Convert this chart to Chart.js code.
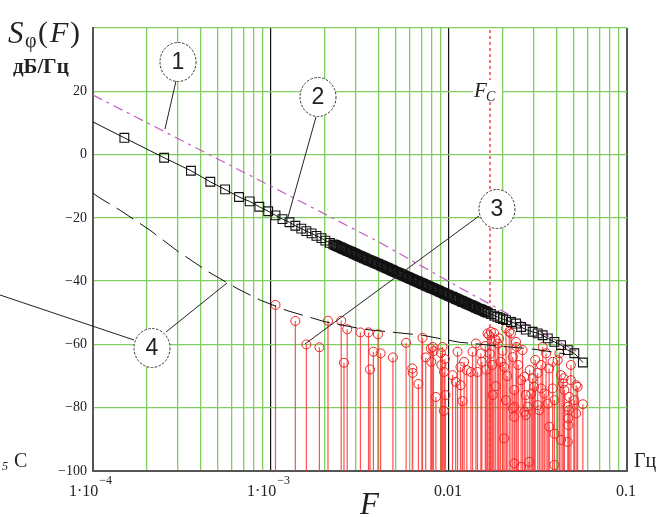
<!DOCTYPE html>
<html>
<head>
<meta charset="utf-8">
<script src="https://cdn.jsdelivr.net/npm/chart.js@4.4.0/dist/chart.umd.min.js"></script>
<style>
  html, body { margin: 0; padding: 0; background: #fff; }
</style>
</head>
<body>
<canvas id="chart" width="664" height="517"></canvas>
<script>
// ---- data (F in Hz, S in dB/Hz) ----

// 1: magenta dash-dot line
const line1F = [1e-4, 1e-3, 4e-3, 0.0117, 0.0233, 0.05, 0.0537];
const line1S = [18.8, -10.0, -27.5, -42.3, -51.5, -61.7, -62.5];

// 2: black line with squares (the middle part is a dense band of squares)
const line2F = [
  1.0e-4, 1.50e-4, 2.51e-4, 3.55e-4, 4.56e-4, 5.52e-4, 6.61e-4, 7.59e-4, 8.60e-4, 9.64e-4,
  1.06e-3, 1.16e-3, 1.27e-3, 1.37e-3, 1.48e-3, 1.58e-3, 1.69e-3, 1.80e-3, 1.92e-3, 2.02e-3,
  2.14e-3, 2.24e-3, 2.28e-3, 2.31e-3, 2.35e-3, 2.39e-3, 2.43e-3, 2.47e-3, 2.51e-3, 2.55e-3,
  2.59e-3, 2.63e-3, 2.68e-3, 2.72e-3, 2.77e-3, 2.81e-3, 2.86e-3, 2.90e-3, 2.95e-3, 2.99e-3,
  3.04e-3, 3.09e-3, 3.14e-3, 3.19e-3, 3.25e-3, 3.30e-3, 3.35e-3, 3.40e-3, 3.46e-3, 3.52e-3,
  3.57e-3, 3.63e-3, 3.69e-3, 3.75e-3, 3.81e-3, 3.87e-3, 3.94e-3, 4.00e-3, 4.07e-3, 4.13e-3,
  4.20e-3, 4.27e-3, 4.34e-3, 4.41e-3, 4.48e-3, 4.55e-3, 4.63e-3, 4.70e-3, 4.78e-3, 4.85e-3,
  4.93e-3, 5.01e-3, 5.10e-3, 5.18e-3, 5.26e-3, 5.35e-3, 5.44e-3, 5.52e-3, 5.61e-3, 5.70e-3,
  5.80e-3, 5.89e-3, 5.99e-3, 6.08e-3, 6.18e-3, 6.28e-3, 6.39e-3, 6.49e-3, 6.60e-3, 6.70e-3,
  6.81e-3, 6.92e-3, 7.04e-3, 7.15e-3, 7.27e-3, 7.38e-3, 7.50e-3, 7.62e-3, 7.75e-3, 7.87e-3,
  8.00e-3, 8.13e-3, 8.27e-3, 8.40e-3, 8.54e-3, 8.67e-3, 8.82e-3, 8.96e-3, 9.11e-3, 9.25e-3,
  9.40e-3, 9.55e-3, 9.71e-3, 9.87e-3, 0.0100, 0.0102, 0.0104, 0.0105, 0.0107, 0.0109,
  0.0110, 0.0112, 0.0114, 0.0116, 0.0118, 0.0119, 0.0121, 0.0123, 0.0125, 0.0127,
  0.0129, 0.0131, 0.0134, 0.0136, 0.0138, 0.0140, 0.0142, 0.0145, 0.0147, 0.0149,
  0.0152, 0.0154, 0.0157, 0.0159, 0.0162, 0.0165, 0.0172, 0.0180, 0.0187, 0.0194,
  0.0201, 0.0209, 0.0223, 0.0238, 0.0254, 0.0270, 0.0295, 0.0315, 0.0336, 0.0359,
  0.0391, 0.0426, 0.0465, 0.0506, 0.0565
];
const line2S = [
  10.3, 5.3, -1.0, -5.1, -8.6, -11.0, -13.4, -14.8, -16.5, -17.9,
  -19.2, -20.4, -21.4, -22.5, -23.4, -24.2, -24.9, -25.7, -26.4, -27.2,
  -27.9, -28.4, -28.55, -28.7, -28.9, -29.1, -29.25, -29.4, -29.6, -29.8,
  -29.95, -30.1, -30.3, -30.5, -30.65, -30.8, -31.0, -31.2, -31.35, -31.5,
  -31.7, -31.9, -32.05, -32.2, -32.4, -32.6, -32.75, -32.9, -33.1, -33.3,
  -33.45, -33.6, -33.75, -33.9, -34.1, -34.3, -34.45, -34.6, -34.8, -35.0,
  -35.15, -35.3, -35.5, -35.7, -35.85, -36.0, -36.2, -36.4, -36.55, -36.7,
  -36.9, -37.1, -37.25, -37.4, -37.6, -37.8, -37.95, -38.1, -38.3, -38.5,
  -38.65, -38.8, -39.0, -39.2, -39.35, -39.5, -39.7, -39.9, -40.05, -40.2,
  -40.4, -40.6, -40.75, -40.9, -41.1, -41.3, -41.45, -41.6, -41.8, -42.0,
  -42.15, -42.3, -42.5, -42.7, -42.85, -43.0, -43.2, -43.4, -43.55, -43.7,
  -43.9, -44.1, -44.25, -44.4, -44.6, -44.8, -44.95, -45.1, -45.3, -45.5,
  -45.65, -45.8, -46.0, -46.2, -46.35, -46.5, -46.65, -46.8, -47.0, -47.2,
  -47.35, -47.5, -47.7, -47.9, -48.05, -48.2, -48.4, -48.6, -48.75, -48.9,
  -49.05, -49.2, -49.4, -49.6, -49.8, -50.0, -50.4, -50.9, -51.3, -51.7,
  -52.0, -52.3, -52.9, -53.4, -54.5, -55.3, -56.0, -56.5, -57.1, -58.1,
  -59.2, -60.2, -61.8, -62.8, -65.7
];

// 3: red stems with circles
const line3F = [
  1.06e-3, 1.37e-3, 1.58e-3, 1.87e-3, 2.09e-3, 2.48e-3, 2.57e-3, 2.68e-3, 3.18e-3, 3.53e-3,
  3.60e-3, 3.76e-3, 3.99e-3, 4.13e-3, 4.84e-3, 5.74e-3, 6.22e-3, 6.25e-3, 6.73e-3, 7.10e-3,
  7.40e-3, 7.90e-3, 7.95e-3, 8.10e-3, 8.18e-3, 8.44e-3, 9.00e-3, 9.06e-3, 9.19e-3, 9.35e-3,
  9.38e-3, 9.48e-3, 9.55e-3, 0.01047, 0.0109, 0.01117, 0.0116, 0.01164, 0.0119, 0.01216,
  0.01259, 0.01327, 0.01356, 0.01416, 0.01446, 0.0151, 0.0153, 0.0160, 0.0162, 0.01647,
  0.0168, 0.0170, 0.0172, 0.0175, 0.0176, 0.0179, 0.0183, 0.0183, 0.0188, 0.0191,
  0.0195, 0.0200, 0.0204, 0.0204, 0.0209, 0.0209, 0.0212, 0.0218, 0.0223, 0.0228,
  0.0228, 0.0233, 0.0233, 0.0233, 0.0233, 0.0238, 0.0240, 0.0245, 0.0254, 0.0254,
  0.0259, 0.0265, 0.0265, 0.0270, 0.0270, 0.0277, 0.0282, 0.0284, 0.0290, 0.0295,
  0.0301, 0.0305, 0.0315, 0.0315, 0.0322, 0.0329, 0.0329, 0.0336, 0.0343, 0.0351,
  0.0359, 0.0365, 0.0366, 0.0382, 0.0382, 0.0391, 0.0391, 0.0391, 0.0408, 0.0417,
  0.0426, 0.0426, 0.0436, 0.0440, 0.0445, 0.0465, 0.0465, 0.0468, 0.0468, 0.0472,
  0.0474, 0.0484, 0.0484, 0.0506, 0.0518, 0.0518, 0.0528, 0.0565
];
const line3S = [
  -47.5, -52.6, -60.0, -60.9, -52.5, -52.5, -65.8, -55.2, -56.2, -56.2,
  -67.9, -62.3, -56.8, -62.8, -64.1, -59.5, -67.6, -69.0, -72.5, -57.9,
  -64.1, -61.3, -65.5, -60.8, -62.1, -76.6, -62.7, -66.5, -60.8, -81.0,
  -68.7, -64.6, -76.0, -69.7, -71.8, -62.3, -67.1, -72.9, -77.9, -65.5,
  -68.1, -68.7, -62.3, -59.7, -68.7, -62.8, -65.5, -60.5, -68.0, -56.5,
  -57.1, -63.0, -56.0, -66.5, -76.0, -56.4, -58.6, -73.2, -59.7, -58.1,
  -65.5, -62.0, -89.7, -67.1, -54.9, -77.6, -70.0, -56.0, -56.5, -80.2,
  -64.0, -79.7, -82.9, -74.4, -97.6, -59.2, -60.8, -66.5, -71.3, -98.7,
  -61.8, -70.2, -81.3, -82.3, -76.0, -79.7, -97.1, -68.1, -75.5, -70.7,
  -73.4, -64.9, -79.2, -69.0, -80.8, -66.5, -73.9, -60.8, -75.5, -62.8,
  -78.7, -67.6, -86.0, -65.5, -73.9, -77.6, -88.2, -98.1, -65.0, -62.8,
  -69.7, -90.2, -72.3, -70.7, -74.4, -90.8, -79.7, -85.5, -83.4, -80.8,
  -76.6, -66.5, -71.3, -77.6, -72.9, -81.8, -73.4, -78.9
];

// 4: black dashed line
const line4F = [1e-4, 1.07e-4, 1.42e-4, 2.09e-4, 3.02e-4, 4.46e-4, 6.44e-4, 8.7e-4, 1.23e-3,
  2.0e-3, 3.3e-3, 7.1e-3, 0.0114, 0.019, 0.03, 0.045];
const line4S = [-12.2, -13.4, -17.6, -23.9, -30.7, -37.1, -42.3, -46.0, -49.3,
  -52.8, -55.2, -57.1, -59.3, -60.5, -61.5, -63.0];

const FC = 0.0170;                       // cutoff frequency marker
const yMin = -100, yMax = 40, yStep = 20;
const xMin = 1e-4, xMax = 0.1;
const decades = [1e-4, 1e-3, 1e-2];
const mult = [1, 2, 3, 4, 5, 6, 7, 8, 9];
const xLabelVals = [1e-4, 1e-3, 0.01, 0.1];
const xLabelText = [["1\u00b710", "\u22124"], ["1\u00b710", "\u22123"], ["0.01", ""], ["0.1", ""]];

// ---- styling ----
const GREEN = "rgb(128,206,98)";
const AXIS = "#555";
const SERIF = '"Liberation Serif", "DejaVu Serif", serif';

const pts = (fs, ss) => fs.map((f, i) => ({ x: f, y: ss[i] }));

// stems: one segment per circle, from axis bottom to the value
const stems = [];
line3F.forEach((f, i) => {
  stems.push({ x: f, y: yMin }, { x: f, y: line3S[i] }, { x: f, y: null });
});

const gridTicks = [];
decades.forEach(d => mult.forEach(m => gridTicks.push(+(d * m).toPrecision(3))));
gridTicks.push(xMax);

function isMajor(v) {
  return Math.abs(v - 1e-3) < 1e-9 || Math.abs(v - 1e-2) < 1e-9;
}

const overlay = {
  id: "overlay",
  afterDraw(chart) {
    const ctx = chart.ctx;
    const xs = chart.scales.x;
    ctx.save();

    // F_C label
    const fx = xs.getPixelForValue(FC);
    ctx.fillStyle = "#fff";
    ctx.fillRect(fx - 17, 80, 29, 22);
    ctx.fillStyle = "#222";
    ctx.font = "italic 21px " + SERIF;
    ctx.textBaseline = "alphabetic";
    ctx.textAlign = "left";
    ctx.fillText("F", fx - 16, 97);
    ctx.font = "italic 14px " + SERIF;
    ctx.fillText("C", fx - 4, 101);

    // x tick labels
    xLabelVals.forEach((v, i) => {
      const px = xs.getPixelForValue(v);
      const [main, sup] = xLabelText[i];
      ctx.font = "16px " + SERIF;
      const w1 = ctx.measureText(main).width;
      ctx.font = "12px " + SERIF;
      const w2 = sup ? ctx.measureText(sup).width : 0;
      const x0 = px - (w1 + w2) / 2 - (sup ? 3 : 1);
      ctx.fillStyle = "#222";
      ctx.font = "16px " + SERIF;
      ctx.fillText(main, x0, 496);
      if (sup) {
        ctx.font = "12px " + SERIF;
        ctx.fillText(sup, x0 + w1 + 1, 484);
      }
    });

    // axis titles and units
    ctx.font = "italic 31px " + SERIF;
    ctx.fillText("S", 8, 43);
    ctx.font = "20px " + SERIF;
    ctx.fillText("\u03c6", 25, 47);
    ctx.font = "30px " + SERIF;
    ctx.fillText("(", 38, 42);
    ctx.font = "italic 30px " + SERIF;
    ctx.fillText("F", 50, 42);
    ctx.font = "30px " + SERIF;
    ctx.fillText(")", 70, 42);
    ctx.font = "bold 21px " + SERIF;
    ctx.fillText("\u0434\u0411/\u0413\u0446", 13, 73);

    ctx.font = "20px " + SERIF;
    ctx.fillText("\u0413\u0446", 634, 467);
    ctx.fillText("C", 14, 467);
    ctx.font = "italic 12px " + SERIF;
    ctx.fillText("5", 2, 470);
    ctx.font = "italic 31px " + SERIF;
    ctx.fillText("F", 360, 514);

    // callouts
    const leaders = [
      [176, 81, 165, 129],
      [316, 117, 288, 217],
      [479, 216, 305, 344],
      [0, 295, 134, 340],
      [166, 332, 227, 283]
    ];
    ctx.strokeStyle = "#222";
    ctx.lineWidth = 1;
    leaders.forEach(l => {
      ctx.beginPath();
      ctx.moveTo(l[0], l[1]);
      ctx.lineTo(l[2], l[3]);
      ctx.stroke();
    });
    const bubbles = [[178, 62, "1"], [318, 97, "2"], [497, 209, "3"], [152, 348, "4"]];
    bubbles.forEach(([cx, cy, t]) => {
      ctx.beginPath();
      ctx.ellipse(cx, cy, 18, 19.5, 0, 0, Math.PI * 2);
      ctx.fillStyle = "#fff";
      ctx.fill();
      ctx.setLineDash([2.5, 1.5]);
      ctx.strokeStyle = "#333";
      ctx.stroke();
      ctx.setLineDash([]);
      ctx.fillStyle = "#222";
      ctx.font = '23px "Liberation Sans", Arial, sans-serif';
      ctx.textAlign = "center";
      ctx.textBaseline = "middle";
      ctx.fillText(t, cx, cy + 1);
      ctx.textAlign = "left";
      ctx.textBaseline = "alphabetic";
    });

    ctx.restore();
  }
};

new Chart(document.getElementById("chart"), {
  type: "scatter",
  data: {
    datasets: [
      {
        label: "2",
        data: pts(line2F, line2S),
        showLine: true,
        borderColor: "#111",
        borderWidth: 1,
        pointStyle: "rect",
        pointRadius: ctx => (ctx.dataIndex === 0 ? 0 : 6.2),
        pointBorderColor: "#111",
        pointBorderWidth: 1.1,
        pointBackgroundColor: "rgba(0,0,0,0)",
        order: 0
      },
      {
        label: "1",
        data: pts(line1F, line1S),
        showLine: true,
        borderColor: "#c45cc4",
        borderWidth: 1.2,
        borderDash: [10, 5, 3, 5],
        pointRadius: 0,
        order: 1
      },
      {
        label: "4",
        data: pts(line4F, line4S),
        showLine: true,
        borderColor: "#111",
        borderWidth: 1,
        borderDash: [20, 8],
        pointRadius: 0,
        order: 2
      },
      {
        label: "3",
        data: pts(line3F, line3S),
        pointStyle: "circle",
        pointRadius: 4.5,
        pointBorderColor: "#ee2222",
        pointBorderWidth: 1,
        pointBackgroundColor: "rgba(0,0,0,0)",
        order: 3
      },
      {
        label: "stems",
        data: stems,
        showLine: true,
        spanGaps: false,
        borderColor: "rgba(255,50,50,0.85)",
        borderWidth: 1.2,
        pointRadius: 0,
        order: 4
      },
      {
        label: "FC",
        data: [{ x: FC, y: yMin }, { x: FC, y: yMax }],
        showLine: true,
        borderColor: "#f04a4a",
        borderWidth: 1.5,
        borderDash: [3, 3],
        pointRadius: 0,
        order: 5
      }
    ]
  },
  options: {
    responsive: false,
    animation: false,
    devicePixelRatio: 1,
    layout: { padding: { left: 0, top: 28, right: 37, bottom: 0 } },
    plugins: {
      legend: { display: false },
      tooltip: { enabled: false }
    },
    scales: {
      x: {
        type: "logarithmic",
        min: xMin,
        max: xMax,
        offset: false,
        afterFit: s => { s.height = 46; },
        afterBuildTicks: s => { s.ticks = gridTicks.map(v => ({ value: v })); },
        ticks: { display: false },
        border: { color: AXIS, width: 2 },
        grid: {
          drawTicks: false,
          color: c => {
            const v = c.tick.value;
            if (isMajor(v)) return "#111";
            if (v <= xMin * 1.0001 || v >= xMax * 0.9999) return AXIS;
            return GREEN;
          },
          lineWidth: c => {
            const v = c.tick.value;
            if (v <= xMin * 1.0001 || v >= xMax * 0.9999) return 2;
            return isMajor(v) ? 1.2 : 1.3;
          }
        }
      },
      y: {
        min: yMin,
        max: yMax,
        afterFit: s => { s.width = 93; },
        ticks: {
          stepSize: yStep,
          padding: 6,
          color: "#222",
          font: { family: SERIF, size: 14 },
          callback: v => (v === yMax ? "" : String(v).replace("-", "\u2212"))
        },
        border: { color: AXIS, width: 2 },
        grid: {
          drawTicks: false,
          color: c => (c.tick.value === yMin ? AXIS : GREEN),
          lineWidth: 1.3
        }
      }
    }
  },
  plugins: [overlay]
});
</script>
</body>
</html>
